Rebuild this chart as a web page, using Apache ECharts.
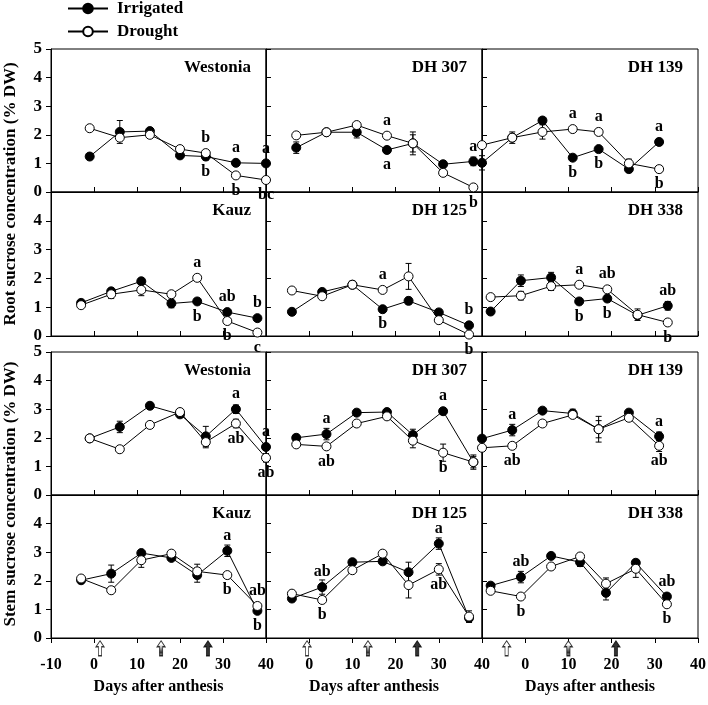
<!DOCTYPE html>
<html lang="en" style="height: 100%">
<head>
  <meta charset="utf-8">
  <title>sucrose</title>
</head>
<body style="height: 100%; margin: 0">
  <div id="container" style="width: 708px;height: 705px"></div>

  <script type="text/javascript" src="https://cdn.jsdelivr.net/npm/echarts/dist/echarts.min.js"></script>

  <script type="text/javascript">
// ---- root sucrose (% DW) ----
const rWestDays = [-1, 6, 13, 20, 26, 33, 40];
const rWestIrr = [1.24, 2.1, 2.13, 1.28, 1.24, 1.02, 1.0];
const rWestDro = [2.23, 1.9, 2.0, 1.5, 1.36, 0.58, 0.42];
const rWestIrrErr = [0.1, 0.4, 0.05, 0.05, 0.12, 0.05, 0.05];
const rWestDroErr = [0.05, 0.1, 0.05, 0.05, 0.05, 0.05, 0.05];
const rWestIrrLab = ['', '', '', '', 'b', 'a', 'a'];
const rWestDroLab = ['', '', '', '', 'b', 'b', 'bc'];

const r307Days = [-3, 4, 11, 18, 24, 31, 38];
const r307Irr = [1.55, 2.09, 2.09, 1.47, 1.7, 0.97, 1.07];
const r307Dro = [1.98, 2.09, 2.34, 1.97, 1.7, 0.67, 0.16];
const r307IrrErr = [0.2, 0.05, 0.2, 0.05, 0.4, 0.05, 0.15];
const r307DroErr = [0.05, 0.1, 0.05, 0.05, 0.3, 0.05, 0.05];
const r307IrrLab = ['', '', '', 'a', '', '', 'a'];
const r307DroLab = ['', '', '', 'a', '', '', 'b'];

const r139Days = [-10, -3, 4, 11, 17, 24, 31];
const r139Irr = [1.02, 1.9, 2.5, 1.2, 1.5, 0.8, 1.75];
const r139Dro = [1.64, 1.9, 2.1, 2.2, 2.1, 1.0, 0.8];
const r139IrrErr = [0.25, 0.05, 0.05, 0.05, 0.05, 0.05, 0.1];
const r139DroErr = [0.05, 0.2, 0.25, 0.05, 0.1, 0.15, 0.12];
const r139IrrLab = ['', '', '', 'b', 'b', '', 'a'];
const r139DroLab = ['', '', '', 'a', 'a', '', 'b'];

const rKauzDays = [-3, 4, 11, 18, 24, 31, 38];
const rKauzIrr = [1.15, 1.55, 1.9, 1.13, 1.2, 0.83, 0.62];
const rKauzDro = [1.07, 1.45, 1.6, 1.45, 2.02, 0.52, 0.12];
const rKauzIrrErr = [0.05, 0.05, 0.05, 0.15, 0.05, 0.05, 0.05];
const rKauzDroErr = [0.05, 0.15, 0.2, 0.05, 0.05, 0.1, 0.05];
const rKauzIrrLab = ['', '', '', '', 'b', 'ab', 'b'];
const rKauzDroLab = ['', '', '', '', 'a', 'b', 'c'];

const r125Days = [-4, 3, 10, 17, 23, 30, 37];
const r125Irr = [0.84, 1.53, 1.78, 0.93, 1.22, 0.82, 0.37];
const r125Dro = [1.58, 1.38, 1.78, 1.6, 2.07, 0.55, 0.05];
const r125IrrErr = [0.1, 0.05, 0.12, 0.1, 0.12, 0.05, 0.05];
const r125DroErr = [0.05, 0.05, 0.12, 0.05, 0.45, 0.05, 0.05];
const r125IrrLab = ['', '', '', 'b', '', '', 'b'];
const r125DroLab = ['', '', '', 'a', '', '', 'b'];

const r338Days = [-8, -1, 6, 12.5, 19, 26, 33];
const r338Irr = [0.85, 1.92, 2.03, 1.2, 1.3, 0.72, 1.05];
const r338Dro = [1.35, 1.4, 1.73, 1.78, 1.62, 0.74, 0.47];
const r338IrrErr = [0.05, 0.2, 0.18, 0.05, 0.1, 0.05, 0.15];
const r338DroErr = [0.05, 0.15, 0.15, 0.05, 0.05, 0.2, 0.05];
const r338IrrLab = ['', '', '', 'b', 'b', '', 'ab'];
const r338DroLab = ['', '', '', 'a', 'ab', '', 'b'];

// ---- stem sucrose (% DW) ----
const sWestDays = [-1, 6, 13, 20, 26, 33, 40];
const sWestIrr = [1.98, 2.38, 3.12, 2.82, 2.05, 3.0, 1.68];
const sWestDro = [1.98, 1.6, 2.45, 2.9, 1.85, 2.5, 1.3];
const sWestIrrErr = [0.05, 0.2, 0.05, 0.05, 0.35, 0.15, 0.1];
const sWestDroErr = [0.05, 0.05, 0.1, 0.05, 0.2, 0.15, 0.15];
const sWestIrrLab = ['', '', '', '', '', 'a', 'a'];
const sWestDroLab = ['', '', '', '', '', 'ab', 'ab'];

const s307Days = [-3, 4, 11, 18, 24, 31, 38];
const s307Irr = [2.0, 2.13, 2.88, 2.9, 2.1, 2.93, 1.15];
const s307Dro = [1.77, 1.7, 2.5, 2.75, 1.9, 1.48, 1.15];
const s307IrrErr = [0.05, 0.2, 0.05, 0.05, 0.2, 0.05, 0.25];
const s307DroErr = [0.05, 0.05, 0.05, 0.05, 0.25, 0.3, 0.2];
const s307IrrLab = ['', 'a', '', '', '', 'a', ''];
const s307DroLab = ['', 'ab', '', '', '', 'b', ''];

const s139Days = [-10, -3, 4, 11, 17, 24, 31];
const s139Irr = [1.97, 2.27, 2.95, 2.85, 2.3, 2.88, 2.05];
const s139Dro = [1.65, 1.72, 2.5, 2.8, 2.3, 2.7, 1.72];
const s139IrrErr = [0.05, 0.2, 0.05, 0.15, 0.45, 0.05, 0.15];
const s139DroErr = [0.05, 0.05, 0.05, 0.05, 0.3, 0.05, 0.2];
const s139IrrLab = ['', 'a', '', '', '', '', 'a'];
const s139DroLab = ['', 'ab', '', '', '', '', 'ab'];

const sKauzDays = [-3, 4, 11, 18, 24, 31, 38];
const sKauzIrr = [2.02, 2.25, 2.97, 2.8, 2.2, 3.05, 0.95];
const sKauzDro = [2.08, 1.67, 2.72, 2.95, 2.33, 2.2, 1.12];
const sKauzIrrErr = [0.05, 0.3, 0.05, 0.05, 0.25, 0.2, 0.05];
const sKauzDroErr = [0.05, 0.05, 0.25, 0.05, 0.25, 0.05, 0.05];
const sKauzIrrLab = ['', '', '', '', '', 'a', 'b'];
const sKauzDroLab = ['', '', '', '', '', 'b', 'ab'];

const s125Days = [-4, 3, 10, 17, 23, 30, 37];
const s125Irr = [1.38, 1.78, 2.65, 2.68, 2.3, 3.3, 0.7];
const s125Dro = [1.55, 1.33, 2.37, 2.95, 1.85, 2.4, 0.75];
const s125IrrErr = [0.05, 0.25, 0.1, 0.05, 0.35, 0.2, 0.15];
const s125DroErr = [0.05, 0.05, 0.05, 0.05, 0.45, 0.2, 0.2];
const s125IrrLab = ['', 'ab', '', '', '', 'a', ''];
const s125DroLab = ['', 'b', '', '', '', 'ab', ''];

const s338Days = [-8, -1, 6, 12.7, 18.7, 25.6, 32.8];
const s338Irr = [1.83, 2.13, 2.87, 2.65, 1.58, 2.63, 1.45];
const s338Dro = [1.65, 1.45, 2.5, 2.85, 1.9, 2.42, 1.18];
const s338IrrErr = [0.05, 0.2, 0.05, 0.15, 0.25, 0.05, 0.05];
const s338DroErr = [0.05, 0.05, 0.1, 0.05, 0.2, 0.3, 0.05];
const s338IrrLab = ['', 'ab', '', '', '', '', 'ab'];
const s338DroLab = ['', 'b', '', '', '', '', 'b'];

// arrows under the bottom axes: open, hatched, black
const arrowDaysLeft = [1.4, 15.6, 26.5];
const arrowDaysMid = [-0.5, 13.6, 25];
const arrowDaysRight = [-4.3, 10, 21];

const xTicks = [-10, 0, 10, 20, 30, 40];
const yTicks = [0, 1, 2, 3, 4, 5];

var dom = document.getElementById('container');
var myChart = echarts.init(dom, null, { renderer: 'canvas' });

const FONT = '"Liberation Serif", "Times New Roman", serif';
const colLeft = [51, 266, 482];
const colW = [215, 216, 216];
const rowTop = [49, 192, 352, 495];
const rowH = [143, 144, 143, 143];

const panels = [
  ['Westonia', 0, 0, rWestDays, rWestIrr, rWestDro, rWestIrrErr, rWestDroErr, rWestIrrLab, rWestDroLab],
  ['DH 307', 0, 1, r307Days, r307Irr, r307Dro, r307IrrErr, r307DroErr, r307IrrLab, r307DroLab],
  ['DH 139', 0, 2, r139Days, r139Irr, r139Dro, r139IrrErr, r139DroErr, r139IrrLab, r139DroLab],
  ['Kauz', 1, 0, rKauzDays, rKauzIrr, rKauzDro, rKauzIrrErr, rKauzDroErr, rKauzIrrLab, rKauzDroLab],
  ['DH 125', 1, 1, r125Days, r125Irr, r125Dro, r125IrrErr, r125DroErr, r125IrrLab, r125DroLab],
  ['DH 338', 1, 2, r338Days, r338Irr, r338Dro, r338IrrErr, r338DroErr, r338IrrLab, r338DroLab],
  ['Westonia', 2, 0, sWestDays, sWestIrr, sWestDro, sWestIrrErr, sWestDroErr, sWestIrrLab, sWestDroLab],
  ['DH 307', 2, 1, s307Days, s307Irr, s307Dro, s307IrrErr, s307DroErr, s307IrrLab, s307DroLab],
  ['DH 139', 2, 2, s139Days, s139Irr, s139Dro, s139IrrErr, s139DroErr, s139IrrLab, s139DroLab],
  ['Kauz', 3, 0, sKauzDays, sKauzIrr, sKauzDro, sKauzIrrErr, sKauzDroErr, sKauzIrrLab, sKauzDroLab],
  ['DH 125', 3, 1, s125Days, s125Irr, s125Dro, s125IrrErr, s125DroErr, s125IrrLab, s125DroLab],
  ['DH 338', 3, 2, s338Days, s338Irr, s338Dro, s338IrrErr, s338DroErr, s338IrrLab, s338DroLab]
];
const arrowDays = [arrowDaysLeft, arrowDaysMid, arrowDaysRight];

// striped fill for the middle arrow
const hatch = document.createElement('canvas');
hatch.width = 4; hatch.height = 3;
const hctx = hatch.getContext('2d');
hctx.fillStyle = '#fff'; hctx.fillRect(0, 0, 4, 3);
hctx.fillStyle = '#000'; hctx.fillRect(0, 0, 4, 1);
const arrowFill = ['#fff', { image: hatch, repeat: 'repeat' }, '#000'];
const arrowPath = 'path://M5,0 L10,6 L7,6 L7,15 L3,15 L3,6 L0,6 Z';

const boldText = { fontFamily: FONT, fontWeight: 'bold', color: '#000' };

function errRender(params, api) {
  const x = api.value(0), y = api.value(1), e = api.value(2);
  if (!e) return null;
  const top = api.coord([x, y + e]);
  const bot = api.coord([x, y - e]);
  const st = { stroke: '#000', lineWidth: 1 };
  return {
    type: 'group',
    children: [
      { type: 'line', shape: { x1: top[0], y1: top[1], x2: bot[0], y2: bot[1] }, style: st },
      { type: 'line', shape: { x1: top[0] - 3, y1: top[1], x2: top[0] + 3, y2: top[1] }, style: st },
      { type: 'line', shape: { x1: bot[0] - 3, y1: bot[1], x2: bot[0] + 3, y2: bot[1] }, style: st }
    ]
  };
}

const grids = [], xAxes = [], yAxes = [], titles = [], series = [];

panels.forEach(function (p, i) {
  const [name, row, col, days, irr, dro, irrErr, droErr, irrLab, droLab] = p;
  grids.push({
    left: colLeft[col], top: rowTop[row], width: colW[col], height: rowH[row],
    show: true, borderColor: '#000', borderWidth: 1, backgroundColor: 'transparent',
    containLabel: false, outerBoundsMode: 'none'
  });
  xAxes.push({
    gridIndex: i, type: 'value', min: xTicks[0], max: xTicks[xTicks.length - 1], interval: 10,
    axisLine: { show: true, onZero: false, lineStyle: { color: '#000', width: 1 } },
    axisTick: { show: true, inside: row < 3, length: 5, lineStyle: { color: '#000' } },
    axisLabel: {
      show: row === 3, margin: 19, fontSize: 16, showMinLabel: true, showMaxLabel: true,
      formatter: function (v) { return (col > 0 && v === -10) ? '' : String(v); },
      ...boldText
    },
    splitLine: { show: false },
    name: row === 3 ? 'Days after anthesis' : '',
    nameLocation: 'middle', nameGap: 41,
    nameTextStyle: { fontSize: 16, ...boldText }
  });
  yAxes.push({
    gridIndex: i, type: 'value', min: yTicks[0], max: yTicks[yTicks.length - 1], interval: 1,
    axisLine: { show: true, onZero: false, lineStyle: { color: '#000', width: 1 } },
    axisTick: { show: true, inside: col > 0, length: 5, lineStyle: { color: '#000' } },
    axisLabel: {
      show: col === 0, margin: 9, fontSize: 17, showMinLabel: true, showMaxLabel: true,
      formatter: function (v) { return (row % 2 === 1 && v === 5) ? '' : String(v); },
      ...boldText
    },
    splitLine: { show: false }
  });
  titles.push({
    text: name, right: 708 - (colLeft[col] + colW[col]) + 15, top: rowTop[row] + 10, padding: 0,
    textStyle: { fontSize: 17, ...boldText }
  });

  function pts(vals, other, labs) {
    return days.map(function (d, k) {
      return {
        value: [d, vals[k]],
        label: {
          show: labs[k] !== '', formatter: labs[k],
          position: vals[k] >= other[k] ? 'top' : 'bottom'
        }
      };
    });
  }
  const lbl = { show: false, fontSize: 16, distance: 2, ...boldText };
  series.push({
    name: 'Irrigated', type: 'line', xAxisIndex: i, yAxisIndex: i,
    data: pts(irr, dro, irrLab), symbol: 'circle', symbolSize: 9,
    itemStyle: { color: '#000', borderColor: '#000', borderWidth: 1 },
    lineStyle: { color: '#000', width: 1 }, label: lbl, z: 3
  });
  series.push({
    name: 'Drought', type: 'line', xAxisIndex: i, yAxisIndex: i,
    data: pts(dro, irr, droLab), symbol: 'circle', symbolSize: 9,
    itemStyle: { color: '#fff', borderColor: '#000', borderWidth: 1 },
    lineStyle: { color: '#000', width: 1 }, label: lbl, z: 4
  });
  [[irr, irrErr], [dro, droErr]].forEach(function (pair) {
    series.push({
      type: 'custom', xAxisIndex: i, yAxisIndex: i, z: 1,
      renderItem: errRender, encode: { x: 0, y: 1 },
      data: days.map(function (d, k) { return [d, pair[0][k], pair[1][k]]; })
    });
  });
  if (row === 3) {
    series.push({
      type: 'scatter', xAxisIndex: i, yAxisIndex: i, clip: false, z: 5,
      symbol: arrowPath, symbolSize: [8, 15],
      itemStyle: { borderColor: '#000', borderWidth: 1 },
      data: arrowDays[col].map(function (d, k) {
        return { value: [d, -0.36], itemStyle: { color: arrowFill[k] } };
      })
    });
  }
});

var option = {
  animation: false,
  backgroundColor: '#fff',
  title: titles,
  legend: {
    data: ['Irrigated', 'Drought'], orient: 'vertical', left: 62, top: -5,
    itemWidth: 40, itemHeight: 12, itemGap: 6, selectedMode: false,
    textStyle: { fontSize: 17, padding: [0, 0, 0, 4], ...boldText }
  },
  grid: grids,
  xAxis: xAxes,
  yAxis: yAxes,
  series: series,
  graphic: [
    {
      type: 'text', x: 11, y: 194, rotation: Math.PI / 2,
      style: { text: 'Root sucrose concentration (% DW)', font: 'bold 17px ' + FONT, fill: '#000', textAlign: 'center', textVerticalAlign: 'middle' }
    },
    {
      type: 'text', x: 11, y: 494, rotation: Math.PI / 2,
      style: { text: 'Stem sucrose concentration (% DW)', font: 'bold 17px ' + FONT, fill: '#000', textAlign: 'center', textVerticalAlign: 'middle' }
    }
  ]
};

myChart.setOption(option);
window.addEventListener('resize', myChart.resize);
  </script>
</body>
</html>
